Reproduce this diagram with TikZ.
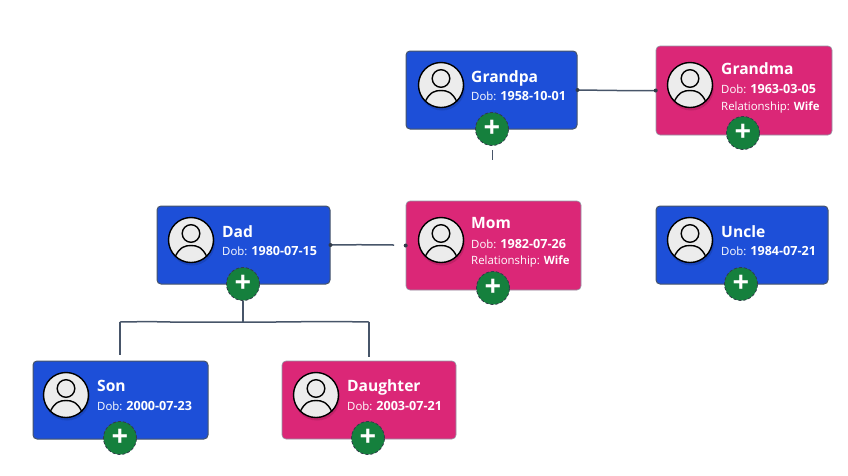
\documentclass[tikz,border=0pt]{standalone}
\usepackage{fontspec}
\setmainfont{Open Sans}
\usepackage{tikz}
\usetikzlibrary{decorations.pathmorphing}
\definecolor{maleblue}{HTML}{1D4FD8}
\definecolor{femalepink}{HTML}{DB2777}
\definecolor{addgreen}{HTML}{15803D}
\definecolor{linegray}{HTML}{475569}
\newcommand{\boldval}[1]{{\fontsize{12.6}{12}\selectfont\bfseries #1}}
\tikzset{
  rough/.style={decorate, decoration={random steps, segment length=28pt, amplitude=.45pt}},
  malecard/.style={draw=linegray, line width=1pt, fill=maleblue, rounded corners=4pt, inner sep=0pt},
  femalecard/.style={draw=linegray!60, line width=.6pt, fill=femalepink, rounded corners=4pt, inner sep=0pt},
  addbtn/.style={circle, draw=linegray!70!black, densely dashed, line width=.8pt, fill=addgreen, text=white, minimum size=33pt, inner sep=0pt, text height=17pt, text depth=0pt, font=\fontsize{29}{29}\selectfont\bfseries},
  namelabel/.style={anchor=base west, inner sep=0pt, text=white, font=\fontsize{15.6}{16}\selectfont\bfseries},
  infolabel/.style={anchor=base west, inner sep=0pt, text=white, font=\fontsize{11.4}{12}\selectfont},
  link/.style={draw=linegray, line width=1.5pt, rough},
  port/.style={circle, fill=linegray!70!black, minimum size=4pt, inner sep=0pt},
  avatar/.pic={
    \fill[black, opacity=.12] (1,2.5) circle (23);
    \draw[black, line width=1.4pt, fill=gray!15] (0,0) circle (22.5);
    \draw[black, line width=1.4pt] (0,-6.5) circle (8.8);
    \draw[black, line width=1.4pt] (-15.5,16) .. controls (-11,7) and (-6,5.5) .. (0,5.5) .. controls (6,5.5) and (11,7) .. (15.5,16);
  }
}
\begin{document}
\begin{tikzpicture}[x=1pt,y=-1pt]
\useasboundingbox (0,0) rectangle (848,475);
% free ends of the connectors
\coordinate (grandpastub) at (492,150);
\coordinate (grandpastubend) at (492,160);
\coordinate (dadlinkend) at (394,245);
\coordinate (treejoin) at (243,322);
\coordinate (treeleft) at (120,322);
\coordinate (treeright) at (369,322);
\coordinate (sonend) at (120,355);
\coordinate (daughterend) at (369,357);
% cards
\node[malecard, minimum width=171pt, minimum height=78pt] (grandpa) at (491.5,90) {};
\node[femalecard, minimum width=176pt, minimum height=89pt] (grandma) at (744,90.5) {};
\node[malecard, minimum width=173pt, minimum height=78pt] (dad) at (243.5,245) {};
\node[femalecard, minimum width=175pt, minimum height=89pt] (mom) at (493.5,245.5) {};
\node[malecard, minimum width=172pt, minimum height=78pt] (uncle) at (742,245) {};
\node[malecard, minimum width=175pt, minimum height=78pt] (son) at (120.5,400) {};
\node[femalecard, minimum width=174pt, minimum height=78pt] (daughter) at (369,400) {};
% avatars
\pic at (441,85) {avatar};
\pic at (690,85) {avatar};
\pic at (191,240) {avatar};
\pic at (441,240) {avatar};
\pic at (690,240) {avatar};
\pic at (66,395) {avatar};
\pic at (316,395) {avatar};
% texts
\node[namelabel] (grandpaname) at (471,82.5) {Grandpa};
\node[infolabel] (grandpadob) at (471,100.5) {Dob: \boldval{1958-10-01}};
\node[namelabel] (grandmaname) at (721,74) {Grandma};
\node[infolabel] (grandmadob) at (721,93) {Dob: \boldval{1963-03-05}};
\node[infolabel] (grandmarel) at (721,110) {Relationship: \textbf{Wife}};
\node[namelabel] (dadname) at (222,237.5) {Dad};
\node[infolabel] (daddob) at (222,255.5) {Dob: \boldval{1980-07-15}};
\node[namelabel] (momname) at (471,228.5) {Mom};
\node[infolabel] (momdob) at (471,248) {Dob: \boldval{1982-07-26}};
\node[infolabel] (momrel) at (471,264) {Relationship: \textbf{Wife}};
\node[namelabel] (unclename) at (721,237.5) {Uncle};
\node[infolabel] (uncledob) at (721,255.5) {Dob: \boldval{1984-07-21}};
\node[namelabel] (sonname) at (97,391.5) {Son};
\node[infolabel] (sondob) at (97,410.5) {Dob: \boldval{2000-07-23}};
\node[namelabel] (daughtername) at (347,391.5) {Daughter};
\node[infolabel] (daughterdob) at (347,410.5) {Dob: \boldval{2003-07-21}};
% add buttons
\node[addbtn] (grandpaadd) at (492,129) {+};
\node[addbtn] (grandmaadd) at (743,133) {+};
\node[addbtn] (dadadd) at (243,284) {+};
\node[addbtn] (momadd) at (493,288) {+};
\node[addbtn] (uncleadd) at (741,284) {+};
\node[addbtn] (sonadd) at (120,438) {+};
\node[addbtn] (daughteradd) at (368,438) {+};
% connectors
\draw[link] (grandpa.east) -- (grandma.west);
\draw[link, line width=1pt] (grandpastub) -- (grandpastubend);
\draw[link] (dad.east) -- (dadlinkend);
\draw[link, line width=2pt] (dadadd.south) -- (treejoin);
\draw[link] (treeleft) -- (treeright);
\draw[link] (treeleft) -- (sonend);
\draw[link, line width=2pt] (treeright) -- (daughterend);
% ports
\node[port] (grandpaport) at (grandpa.east) {};
\node[port] (grandmaport) at (grandma.west) {};
\node[port] (dadport) at (dad.east) {};
\node[port] (momport) at (mom.west) {};
\end{tikzpicture}
\end{document}
